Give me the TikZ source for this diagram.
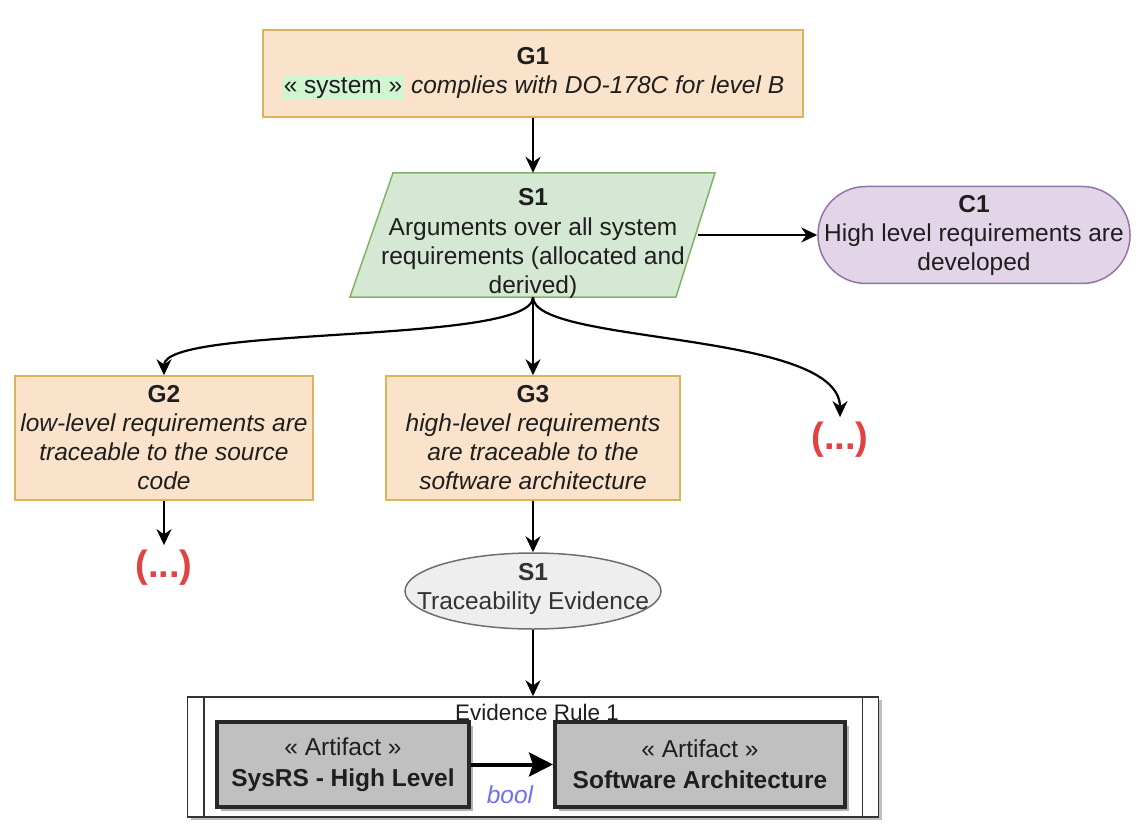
\documentclass[tikz,border=0pt]{standalone}
\usepackage{fontspec}
\setmainfont{Liberation Sans}
\usetikzlibrary{arrows.meta,shapes.geometric,shadows}
\definecolor{goalfill}{RGB}{251,227,203}
\definecolor{goaldraw}{RGB}{218,180,90}
\definecolor{strfill}{RGB}{213,232,212}
\definecolor{strdraw}{RGB}{130,179,102}
\definecolor{ctxfill}{RGB}{225,213,231}
\definecolor{ctxdraw}{RGB}{150,115,166}
\definecolor{hlgreen}{RGB}{208,245,208}
\definecolor{evfill}{RGB}{238,238,238}
\definecolor{evdraw}{RGB}{110,110,110}
\definecolor{artfill}{RGB}{192,192,192}
\definecolor{artdraw}{RGB}{40,40,40}
\definecolor{dotred}{RGB}{226,66,66}
\definecolor{boolc}{RGB}{110,110,250}
\definecolor{txt}{RGB}{30,30,30}
\newcommand\mainfs{\fontsize{24.5}{29}\selectfont}
\newcommand\hlbox[1]{{\setlength\fboxsep{2pt}\colorbox{hlgreen}{#1}}}
\tikzset{
  goal/.style={draw=goaldraw, fill=goalfill, line width=1.5pt, rectangle, align=center, font=\mainfs, text=txt, inner sep=0pt},
  stratshape/.style={draw=strdraw, fill=strfill, line width=1.5pt},
  ctx/.style={draw=ctxdraw, fill=ctxfill, line width=1.5pt, rectangle, rounded corners=48pt, align=center, font=\mainfs, text=txt, inner sep=0pt},
  evid/.style={draw=evdraw, fill=evfill, line width=1.5pt, ellipse, inner sep=0pt},
  txtnode/.style={align=center, font=\mainfs, text=txt, inner sep=0pt},
  dots/.style={font=\fontsize{38}{40}\selectfont\bfseries, text=dotred, inner sep=5pt},
  rulebox/.style={draw=black!80, fill=white, line width=1.5pt, rectangle, inner sep=0pt, drop shadow={shadow xshift=3pt, shadow yshift=-3pt, fill=black, opacity=0.25}},
  artbox/.style={draw=artdraw, fill=artfill, line width=4pt, rectangle, align=center, font=\mainfs, text=txt, inner sep=0pt, drop shadow={shadow xshift=4pt, shadow yshift=-4pt, fill=black, opacity=0.3}},
  arr/.style={draw=black, line width=2.2pt, -{Stealth[length=16pt,width=15pt]}},
  bigarr/.style={draw=black, line width=4pt, -{Stealth[length=24pt,width=24pt,inset=4pt]}}
}
\begin{document}
\begin{tikzpicture}[x=1pt,y=-1pt]
\useasboundingbox (0,0) rectangle (1148,834);
% G1
\node[goal, minimum width=540pt, minimum height=87pt] (G1) at (533,73.5)
  {\textbf{G1}\\\hlbox{« system »} \textit{complies with DO-178C for level B}};
% S1 (parallelogram)
\draw[stratshape] (350,297) -- (676,297) -- (715,173) -- (393,173) -- cycle;
\node[rectangle, draw=none, minimum width=330pt, minimum height=124pt, inner sep=0pt] (S1) at (533,235) {};
\node[txtnode] (S1t) at (533,243) {\textbf{S1}\\[1pt]Arguments over all system\\requirements (allocated and\\derived)};
% C1
\node[ctx, minimum width=312pt, minimum height=97pt] (C1) at (974,235)
  {\textbf{C1}\\High level requirements are\\developed};
% G2, G3
\node[goal, minimum width=298pt, minimum height=124pt] (G2) at (164,438)
  {\textbf{G2}\\\textit{low-level requirements are}\\\textit{traceable to the source}\\\textit{code}};
\node[goal, minimum width=294pt, minimum height=124pt] (G3) at (533,438)
  {\textbf{G3}\\\textit{high-level requirements}\\\textit{are traceable to the}\\\textit{software architecture}};
% dots
\node[dots] (D1) at (840,440) {(...)};
\node[dots] (D2) at (164,568) {(...)};
% evidence ellipse
\node[evid, minimum width=256pt, minimum height=76pt] (E) at (533,591) {};
\node[txtnode, text=black!80] (Et) at (533,589) {\textbf{S1}\\Traceability Evidence};
% evidence rule
\node[rulebox, minimum width=691pt, minimum height=120pt] (ER) at (533,757) {};
\draw[black!80, line width=1.5pt] ([xshift=17pt]ER.north west) -- ([xshift=17pt]ER.south west);
\draw[black!80, line width=1.5pt] ([xshift=-17pt]ER.north east) -- ([xshift=-17pt]ER.south east);
\node[txtnode, font=\fontsize{22.5}{25}\selectfont] (ERt) at (537,712) {Evidence Rule 1};
\node[artbox, minimum width=252pt, minimum height=85pt] (A1) at (343,764.5)
  {« Artifact »\\[2pt]\textbf{SysRS - High Level}};
\node[artbox, minimum width=290pt, minimum height=85pt] (A2) at (700,764.5)
  {« Artifact »\\[2pt]\textbf{Software Architecture}};
\node[txtnode, text=boolc, font=\mainfs\itshape] (B) at (510,795) {bool};
% connectors
\draw[arr] (G1.south) -- (S1.north);
\draw[arr] (S1.east) -- (C1.west);
\draw[arr] (S1.south) -- (G3.north);
\draw[arr] (S1.south) .. controls (533,345) and (164,325) .. (G2.north);
\draw[arr] (S1.south) .. controls (533,345) and (840,330) .. (D1.north);
\draw[arr] (G2.south) -- (D2.north);
\draw[arr] (G3.south) -- (E.north);
\draw[arr] (E.south) -- (ER.north);
\draw[bigarr] (A1.east) -- (A2.west);
\end{tikzpicture}
\end{document}
